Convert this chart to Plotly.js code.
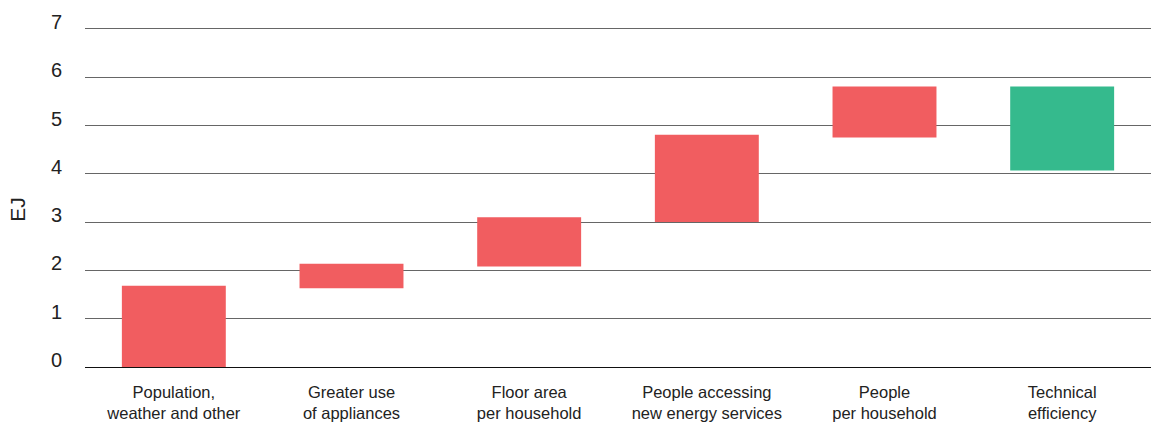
<!DOCTYPE html>
<html>
<head>
<meta charset="utf-8">
<script src="https://cdn.plot.ly/plotly-3.0.1.min.js"></script>
<style>
  html, body { margin: 0; padding: 0; background: #fff; }
  #chart { width: 1151px; height: 423px; }
</style>
</head>
<body>
<div id="chart"></div>
<script>
// Drivers of change in residential energy demand (EJ), drawn as floating bars
const categories = [
  "Population,<br>weather and other",
  "Greater use<br>of appliances",
  "Floor area<br>per household",
  "People accessing<br>new energy services",
  "People<br>per household",
  "Technical<br>efficiency"
];
const barStart = [0, 1.63, 2.08, 3.0, 4.75, 4.07];
const barEnd   = [1.68, 2.14, 3.10, 4.81, 5.81, 5.81];
const barColors = ["#f15d60", "#f15d60", "#f15d60", "#f15d60", "#f15d60", "#35ba8d"];
const yTicks = [0, 1, 2, 3, 4, 5, 6, 7];
const unitLabel = "EJ";

const trace = {
  type: "bar",
  x: categories,
  base: barStart,
  y: barEnd.map((e, i) => e - barStart[i]),
  marker: { color: barColors, line: { width: 0 } },
  hoverinfo: "skip"
};

const layout = {
  width: 1151,
  height: 423,
  margin: { l: 85, r: 0, t: 27, b: 56 },
  paper_bgcolor: "#fff",
  plot_bgcolor: "#fff",
  showlegend: false,
  bargap: 0.415,
  font: { family: "Liberation Sans, Arial, sans-serif", color: "#222" },
  xaxis: {
    type: "category",
    showgrid: false,
    zeroline: false,
    showline: false,
    ticks: "",
    tickfont: { size: 16.5, color: "#222" },
    ticklabelstandoff: 13,
    fixedrange: true
  },
  yaxis: {
    range: [0, 7.04],
    tickvals: yTicks,
    ticktext: yTicks.map(String),
    showgrid: true,
    gridcolor: "#666",
    gridwidth: 1,
    zeroline: true,
    zerolinecolor: "#111",
    zerolinewidth: 1,
    showline: false,
    ticks: "",
    tickfont: { size: 20, color: "#222" },
    ticklabelstandoff: 22,
    ticklabelshift: -7,
    fixedrange: true
  },
  // unit label sits a little below the middle of the value axis
  annotations: [{
    text: unitLabel,
    textangle: -90,
    xref: "paper",
    yref: "y",
    x: -0.064,
    y: 3.27,
    xanchor: "center",
    yanchor: "middle",
    showarrow: false,
    font: { size: 21, color: "#222" }
  }]
};

Plotly.newPlot("chart", [trace], layout, { displayModeBar: false, staticPlot: true });
</script>
</body>
</html>
